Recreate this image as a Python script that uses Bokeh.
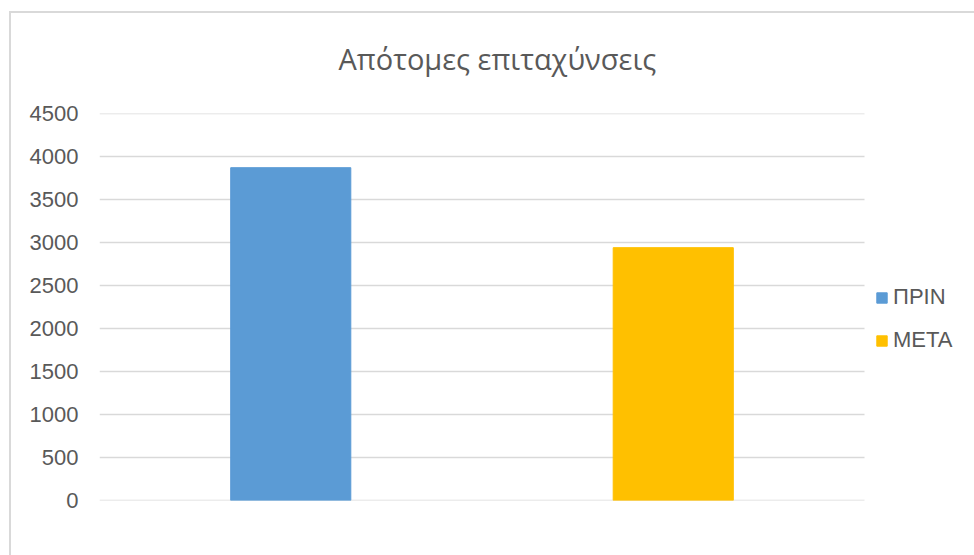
from bokeh.plotting import figure
from bokeh.models import (ColumnDataSource, Range1d, FixedTicker,
                          Legend, LegendItem, Title, InlineStyleSheet)
from bokeh.embed import file_html
from bokeh.resources import INLINE

# Data
categories = ["ΠΡΙΝ", "ΜΕΤΑ"]
values = [3870, 2940]
bar_colors = ["#5B9BD5", "#FFC000"]
y_ticks = [0, 500, 1000, 1500, 2000, 2500, 3000, 3500, 4000, 4500]
title_text = "Απότομες επιταχύνσεις"

TEXT = "#595959"
GRID = "#D9D9D9"

# one unit per category slot; the extra room on the right holds the legend
n = len(categories)
slot_px = 382.5
legend_room_px = 110
xpos = [i + 0.5 for i in range(n)]

src = ColumnDataSource(dict(x=xpos, cat=categories, val=values, color=bar_colors))

p = figure(width=974, height=555, output_backend="svg", toolbar_location=None,
           x_range=Range1d(0, n + legend_room_px / slot_px),
           y_range=Range1d(0, 4500),
           min_border_left=99, min_border_right=0,
           min_border_top=113, min_border_bottom=55)
p.title = None
p.add_layout(Title(text=title_text, align="left", text_font="Open Sans",
                   text_font_size="29px", text_font_style="normal",
                   text_color=TEXT, standoff=72, offset=239), "above")

# horizontal gridlines across the category slots only
p.segment(x0=[0] * len(y_ticks), x1=[n] * len(y_ticks), y0=y_ticks, y1=y_ticks,
          line_color=GRID, line_width=1.5, level="underlay")

r = p.vbar(x="x", top="val", width=0.314, color="color", source=src)

# axes
p.xaxis.visible = False
p.xgrid.visible = False
p.ygrid.visible = False
p.outline_line_color = None
p.yaxis.ticker = FixedTicker(ticks=y_ticks)
p.yaxis.axis_line_color = None
p.yaxis.major_tick_line_color = None
p.yaxis.minor_tick_line_color = None
p.yaxis.major_tick_out = 0
p.yaxis.major_tick_in = 0
p.yaxis.major_label_standoff = 21
p.yaxis.major_label_text_font = "Liberation Sans"
p.yaxis.major_label_text_font_size = "22px"
p.yaxis.major_label_text_color = TEXT

# legend to the right of the bars
items = [LegendItem(label=c, renderers=[r], index=i) for i, c in enumerate(categories)]
legend = Legend(items=items, location=(776, 147), padding=0, margin=0,
                spacing=17, glyph_width=13, glyph_height=13, label_standoff=5,
                label_text_font="Liberation Sans", label_text_font_size="22px",
                label_text_color=TEXT, border_line_color=None,
                background_fill_alpha=0)
p.add_layout(legend, "center")

# thin frame around the chart area
p.stylesheets = [InlineStyleSheet(css=""":host { position: relative; }
:host::after { content: ''; position: absolute; left: 9px; top: 11px;
  right: 0; bottom: 0; border-left: 2px solid #D9D9D9;
  border-top: 2px solid #D9D9D9; pointer-events: none; }""")]

p.background_fill_color = "white"
p.border_fill_color = "white"

open("out.html", "w").write(file_html(p, INLINE))
